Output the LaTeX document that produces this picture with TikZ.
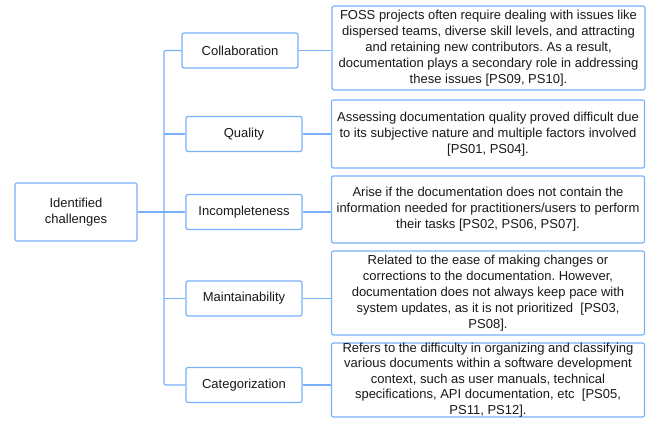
\documentclass[tikz,border=0pt]{standalone}
\usepackage{fontspec}
\setmainfont{Liberation Sans}
\usepackage{tikz}
\usetikzlibrary{positioning}
\definecolor{linkblue}{RGB}{120,176,250}
\frenchspacing

\begin{document}
\begin{tikzpicture}[x=1pt,y=-1pt,font=\fontsize{13}{16}\selectfont,
  box/.style={draw=linkblue,line width=1.2pt,rounded corners=2pt,fill=white,align=center,text=black!90},
  cat/.style={box,minimum width=116pt,minimum height=35pt,inner sep=2pt},
  desc/.style={box,minimum width=313pt,inner xsep=2pt,inner ysep=1pt},
  link/.style={draw=linkblue,line width=1.2pt}]
  \useasboundingbox (0,0) rectangle (653,427);
  \node[box,minimum width=122pt,minimum height=58pt] (root) at (76,212) {Identified\\challenges};
  \node[cat] (col) at (240,50.5) {Collaboration};
  \node[cat] (qua) at (244,134) {Quality};
  \node[cat] (inc) at (244,212) {Incompleteness};
  \node[cat] (mai) at (244,298.5) {Maintainability};
  \node[cat] (cat) at (244,385) {Categorization};
  \node[desc,minimum height=84pt] (dcol) at (488.5,48) {FOSS projects often require dealing with issues like\\dispersed teams, diverse skill levels, and attracting\\and retaining new contributors. As a result,\\documentation plays a secondary role in addressing\\these issues [PS09, PS10].};
  \node[desc,minimum height=68pt] (dqua) at (488,134) {Assessing documentation quality proved difficult due\\to its subjective nature and multiple factors involved\\{[}PS01, PS04{]}.};
  \node[desc,minimum height=67pt] (dinc) at (488,209.5) {Arise if the documentation does not contain the\\information needed for practitioners/users to perform\\their tasks [PS02, PS06, PS07].};
  \node[desc,minimum height=84pt] (dmai) at (488,293) {Related to the ease of making changes or\\corrections to the documentation. However,\\documentation does not always keep pace with\\system updates, as it is not prioritized~~[PS03,\\PS08].};
  \node[desc,minimum height=74pt,inner ysep=0pt,font=\fontsize{13}{15.5}\selectfont] (dcat) at (488,380) {Refers to the difficulty in organizing and classifying\\various documents within a software development\\context, such as user manuals, technical\\specifications, API documentation, etc~~[PS05,\\PS11, PS12].};
  % tree on the left
  \coordinate (trunk) at (164,212);
  \draw[link,rounded corners=2pt] (col.west) -| (trunk) |- (cat.west);
  \draw[link] (root.east) -- (inc.west);
  \draw[link] (trunk |- qua.west) -- (qua.west);
  \draw[link] (trunk |- mai.west) -- (mai.west);
  % descriptions
  \foreach \a/\b in {col/dcol,qua/dqua,inc/dinc,mai/dmai,cat/dcat}
    \draw[link] (\a.east) -- (\a.east -| \b.west);
\end{tikzpicture}
\end{document}
